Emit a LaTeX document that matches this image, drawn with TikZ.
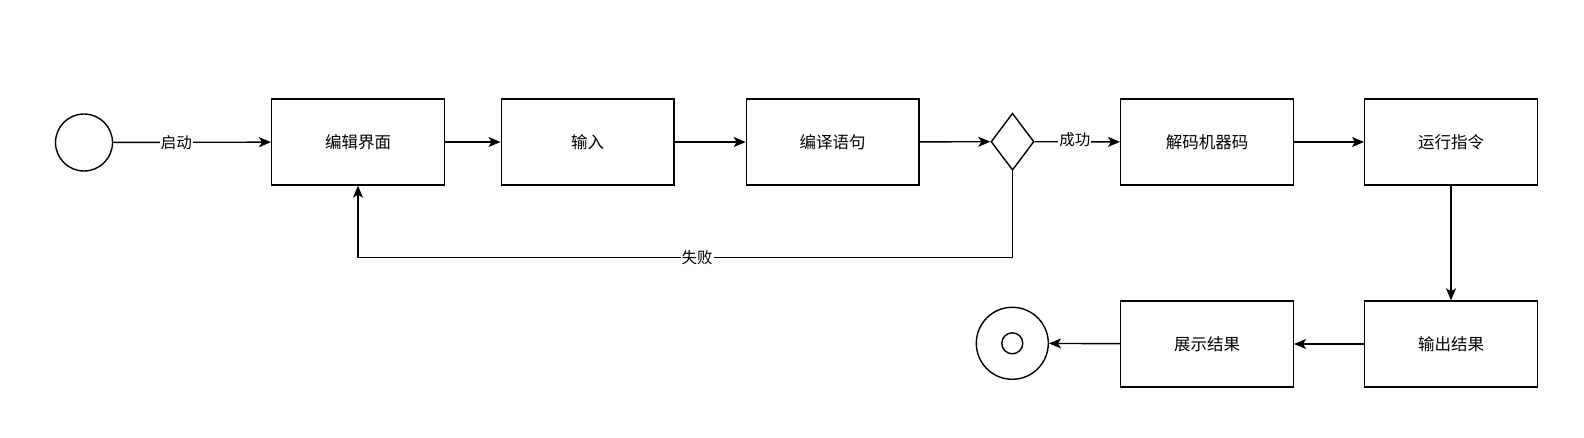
\documentclass[tikz,border=0pt]{standalone}
\usepackage{fontspec}
\newfontfamily\cjk{Noto Sans CJK SC}
\usetikzlibrary{arrows.meta,shapes.geometric}

\begin{document}
\begin{tikzpicture}[x=1pt, y=-1pt, line width=1.4pt,
    box/.style={draw, rectangle, minimum width=172.6pt, minimum height=86pt, inner sep=0pt, font=\cjk\fontsize{16.5}{20}\selectfont},
    lbl/.style={fill=white, inner sep=1pt, font=\cjk\fontsize{15.5}{18}\selectfont},
    flow/.style={-{Stealth[length=12pt, width=10pt, inset=3pt]}}]
    \useasboundingbox (0,0) rectangle (1584,438);

    % Draw states
    \node[draw, circle, minimum size=57pt, inner sep=0pt] (start) at (84,142.5) {};
    \node[box] (edit) at (358,142) {编辑界面};
    \node[box] (input) at (587.5,142) {输入};
    \node[box] (compile) at (832.7,142) {编译语句};
    \node[draw, diamond, minimum width=43pt, minimum height=57pt, inner sep=0pt] (check) at (1012.5,141.7) {};
    \node[box] (decode) at (1207,142) {解码机器码};
    \node[box] (run) at (1451,142) {运行指令};
    \node[box] (output) at (1451,344) {输出结果};
    \node[box] (show) at (1207,344) {展示结果};
    \node[draw, circle, minimum size=72pt, inner sep=0pt] (stop) at (1012.3,343.3) {};
    \node[draw, circle, minimum size=21pt, inner sep=0pt] (stopdot) at (stop.center) {};
    \coordinate (back) at (358,257.6);

    \draw[flow] (start) -- node[lbl, pos=0.4] {启动} (edit);
    \draw[flow] (edit) -- (input);
    \draw[flow] (input) -- (compile);
    \draw[flow] (compile) -- (check);
    \draw[flow] (check) -- node[lbl, pos=0.47, yshift=2pt] {成功} (decode);
    \draw[flow] (decode) -- (run);
    \draw[flow] (run) -- (output);
    \draw[flow] (output) -- (show);
    \draw[flow] (show) -- (stop);

    \draw[flow] (check.south) |- node[lbl, pos=0.741] {失败} (back) -- (edit.south);
\end{tikzpicture}
\end{document}
